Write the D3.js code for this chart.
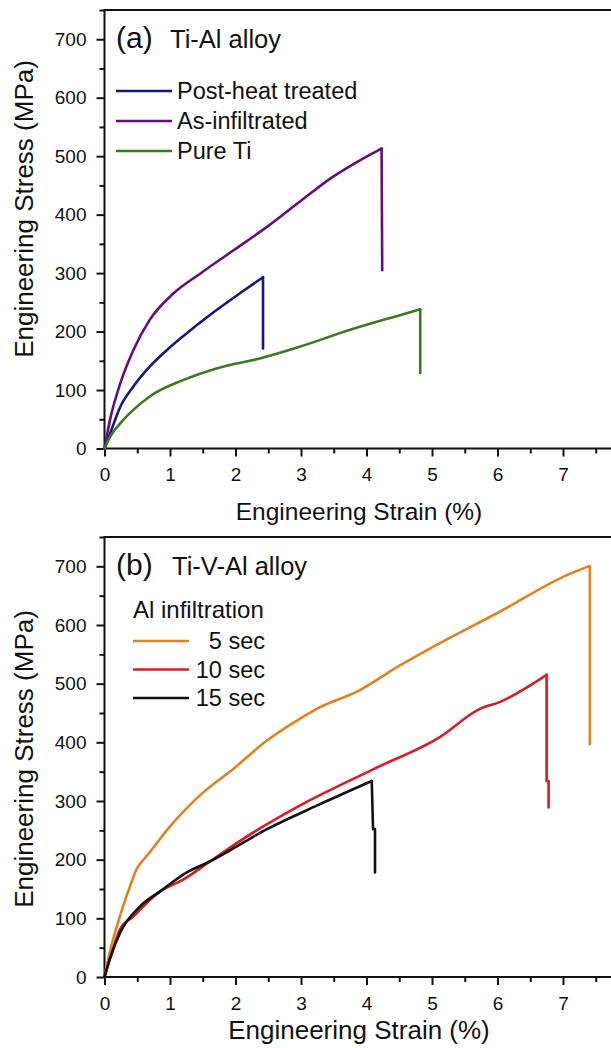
<!DOCTYPE html>
<html>
<head>
<meta charset="utf-8">
<script src="https://cdn.jsdelivr.net/npm/d3@7"></script>
<style>
  body { margin: 0; background: #fff; }
  text { font-family: "Liberation Sans", Arial, sans-serif; fill: #111; }
</style>
</head>
<body>
<div id="chart"></div>
<script>
// ---- data (strain %, stress MPa) ----
var postHeat = [[0,0],[0.1,30],[0.24,71],[0.44,106],[0.69,140],[0.95,168],[1.2,192],[1.7,236],[2.1,268],[2.42,293],[2.42,171]];
var asInfiltrated = [[0,0],[0.084,49],[0.24,111],[0.44,168],[0.69,220],[1.05,265],[1.46,299],[1.97,339],[2.48,379],[2.98,422],[3.49,465],[3.9,493],[4.23,513],[4.24,305]];
var pureTi = [[0,0],[0.084,20],[0.24,43],[0.44,66],[0.69,89],[1.2,117],[1.71,137],[2.37,154],[2.98,174],[3.75,203],[4.51,228],[4.82,238],[4.82,129]];

var sec5 = [[0,0],[0.08,42],[0.24,105],[0.4,158],[0.5,186],[0.56,195],[0.7,214],[0.95,250],[1.46,310],[1.97,355],[2.48,403],[2.98,440],[3.24,457],[3.9,489],[4.51,531],[5.02,563],[6.04,623],[7.06,685],[7.39,700],[7.41,700],[7.41,397]];
var sec10 = [[0,0],[0.08,30],[0.24,82],[0.44,103],[0.59,120],[0.85,146],[1.0,155],[1.2,166],[1.61,197],[2.07,232],[2.98,292],[4.1,354],[5.12,409],[5.73,457],[6.04,469],[6.75,515],[6.75,334],[6.78,334],[6.78,289]];
var sec15 = [[0,0],[0.08,30],[0.24,76],[0.54,120],[0.85,146],[1.25,178],[1.61,197],[2.48,252],[3.24,292],[4.08,334],[4.1,252],[4.13,252],[4.13,178]];

var xMajor = [0,1,2,3,4,5,6,7];
var xMinor = [0.5,1.5,2.5,3.5,4.5,5.5,6.5,7.5];
var yMajor = [0,100,200,300,400,500,600,700];
var yMinor = [50,150,250,350,450,550,650,750];

var namesA = ["Post-heat treated", "As-infiltrated", "Pure Ti"];
var namesB = ["5 sec", "10 sec", "15 sec"];

var W = 611, H = 1048;
var left = 104.5;

var svg = d3.select("#chart").append("svg")
    .attr("width", W)
    .attr("height", H);

var x = d3.scaleLinear().domain([0, 7.75]).range([left, left + 65.5 * 7.75]);

function drawPanel(top, bottom, titleSize, titleY, yTitleMid, series, colors) {
    var y = d3.scaleLinear().domain([0, 750]).range([bottom, top]);
    var g = svg.append("g");

    // minor ticks
    g.append("g")
        .attr("transform", "translate(" + left + ",0)")
        .call(d3.axisLeft(y).tickValues(yMinor).tickSize(5).tickFormat(""))
        .call(function(a) { a.select(".domain").remove(); });
    g.append("g")
        .attr("transform", "translate(0," + bottom + ")")
        .call(d3.axisBottom(x).tickValues(xMinor).tickSize(5).tickFormat(""))
        .call(function(a) { a.select(".domain").remove(); });

    // major ticks + labels
    g.append("g")
        .attr("transform", "translate(" + left + ",0)")
        .call(d3.axisLeft(y).tickValues(yMajor).tickSize(8).tickPadding(10))
        .call(function(a) { a.select(".domain").remove(); })
        .selectAll("text").style("font-size", "19px");
    g.append("g")
        .attr("transform", "translate(0," + bottom + ")")
        .call(d3.axisBottom(x).tickValues(xMajor).tickSize(8).tickPadding(11.5))
        .call(function(a) { a.select(".domain").remove(); })
        .selectAll("text").style("font-size", "19px");

    g.selectAll(".tick line").style("stroke", "#111").style("stroke-width", 2);

    // frame: left, bottom and top lines
    g.append("path")
        .attr("d", "M" + W + "," + top + "H" + left + "V" + bottom + "H" + W)
        .style("fill", "none")
        .style("stroke", "#111")
        .style("stroke-width", 2);

    // curves: smooth rise up to the peak, straight drop after it
    var smooth = d3.line()
        .x(function(d) { return x(d[0]); })
        .y(function(d) { return y(d[1]); })
        .curve(d3.curveMonotoneX);
    var straight = d3.line()
        .x(function(d) { return x(d[0]); })
        .y(function(d) { return y(d[1]); });
    series.forEach(function(s, i) {
        var peak = d3.maxIndex(s, function(d) { return d[1]; });
        var rise = s.slice(0, peak + 1),
            drop = s.slice(peak);
        [smooth(rise), straight(drop)].forEach(function(dstr) {
            g.append("path")
                .attr("d", dstr)
                .style("fill", "none")
                .style("stroke", colors[i])
                .style("stroke-width", 2.6)
                .style("stroke-linejoin", "round")
                .style("stroke-linecap", "round");
        });
    });

    // axis titles
    g.append("text")
        .text("Engineering Strain (%)")
        .attr("text-anchor", "middle")
        .style("font-size", titleSize + "px")
        .attr("x", 359)
        .attr("y", titleY);
    g.append("text")
        .text("Engineering Stress (MPa)")
        .attr("text-anchor", "middle")
        .style("font-size", "26px")
        .attr("transform", "translate(33," + yTitleMid + ") rotate(-90)");

    return g;
}

// ---- panel (a) ----
var colorsA = ["#16167f", "#650d7d", "#3b7b1f"];
var ga = drawPanel(10, 448.5, 24.5, 520, 209, [postHeat, asInfiltrated, pureTi], colorsA);
ga.append("text").text("(a)").style("font-size", "30px").attr("x", 116).attr("y", 48);
ga.append("text").text("Ti-Al alloy").style("font-size", "25.5px").attr("x", 170).attr("y", 48);
namesA.forEach(function(n, i) {
    var ly = 91 + i * 30;
    ga.append("line")
        .attr("x1", 116).attr("x2", 172)
        .attr("y1", ly).attr("y2", ly)
        .style("stroke", colorsA[i])
        .style("stroke-width", 2.6);
    ga.append("text").text(n)
        .style("font-size", "23.5px")
        .attr("x", 177)
        .attr("y", ly + 8);
});

// ---- panel (b) ----
var colorsB = ["#e5801f", "#d61c26", "#111111"];
var gb = drawPanel(537, 977, 26, 1039, 759, [sec5, sec10, sec15], colorsB);
gb.append("text").text("(b)").style("font-size", "30px").attr("x", 116).attr("y", 575);
gb.append("text").text("Ti-V-Al alloy").style("font-size", "25.5px").attr("x", 172).attr("y", 575);
gb.append("text").text("Al infiltration").style("font-size", "24px").attr("x", 133).attr("y", 618);
namesB.forEach(function(n, i) {
    var ly = 641 + i * 28.5;
    gb.append("line")
        .attr("x1", 133).attr("x2", 189)
        .attr("y1", ly).attr("y2", ly)
        .style("stroke", colorsB[i])
        .style("stroke-width", 2.6);
    gb.append("text").text(n)
        .style("font-size", "23.5px")
        .attr("text-anchor", "end")
        .attr("x", 265)
        .attr("y", ly + 8);
});
</script>
</body>
</html>
